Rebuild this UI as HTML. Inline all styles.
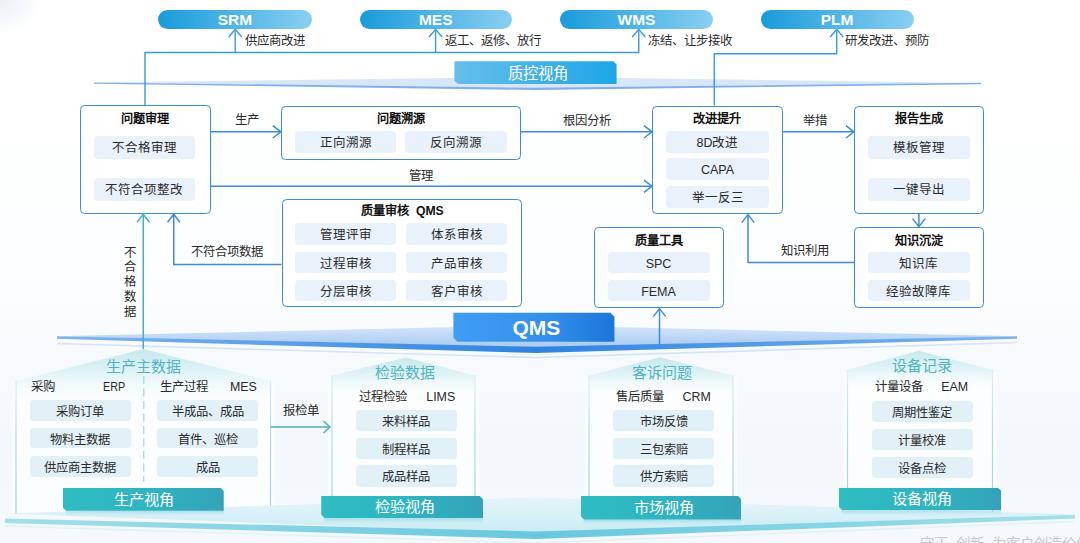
<!DOCTYPE html>
<html lang="zh-CN"><head><meta charset="utf-8"><title>QMS</title><style>
*{margin:0;padding:0;box-sizing:border-box}
html,body{width:1080px;height:543px;overflow:hidden;background:#fff}
body{font-family:"Liberation Sans",sans-serif;position:relative;color:#2a2a2a}
#bg{position:absolute;left:0;top:0;width:1080px;height:543px;background:
 radial-gradient(ellipse 42px 34px at 0 0,#e8f0f8 0,rgba(255,255,255,0) 100%),
 linear-gradient(180deg,#ffffff 0,#fdfeff 50%,#f7fafd 66%,#f4f8fc 80%,#f5f8fc 100%)}
svg#art{position:absolute;left:0;top:0}
.abs{position:absolute}
.pill{position:absolute;top:10px;height:19.2px;border-radius:10px;background:linear-gradient(90deg,#189bdb 0,#8acff1 100%);color:#fff;font-weight:bold;font-size:15.5px;line-height:19.6px;text-align:center}
.box{position:absolute;border:1.7px solid #3d8cd8;border-radius:4.5px;background:#fff}
.ttl{position:absolute;font-weight:bold;font-size:12.2px;line-height:14px;height:14px;color:#111;text-align:center;white-space:pre}
.it{position:absolute;background:#e9f1fb;border-radius:4px;font-size:12.5px;text-align:center;color:#2b2b2b;white-space:nowrap}
.bit{background:#e2f0f8;font-size:12.3px}
.lb{position:absolute;font-size:12.4px;line-height:14px;height:14px;white-space:nowrap;color:#2b2b2b}
.tt{position:absolute;font-size:15px;line-height:18px;height:18px;color:#52b3c2;text-align:center;white-space:nowrap}
.btn{position:absolute;color:#fff;font-size:15.2px;text-align:center;white-space:nowrap;background:linear-gradient(90deg,#2fbcc2 0,#2fb4c0 55%,#35a2b9 100%)}
</style></head>
<body>
<div id="bg"></div>
<svg id="art" width="1080" height="543" viewBox="0 0 1080 543"><defs><linearGradient id="gq" x1="0" y1="0" x2="1" y2="0"><stop offset="0" stop-color="#419df3"/><stop offset="0.6" stop-color="#328ee9"/><stop offset="1" stop-color="#1b76d9"/></linearGradient><linearGradient id="gz" x1="0" y1="0" x2="1" y2="0"><stop offset="0" stop-color="#66bfeb"/><stop offset="1" stop-color="#1ea5e6"/></linearGradient><linearGradient id="gl" x1="0" y1="0" x2="0" y2="1"><stop offset="0" stop-color="#d6e6fa"/><stop offset="1" stop-color="#a6c9f3"/></linearGradient><linearGradient id="gr" x1="0" y1="0" x2="0" y2="1"><stop offset="0" stop-color="#bbe4eb" stop-opacity="0.85"/><stop offset="0.45" stop-color="#d9f0f4" stop-opacity="0.75"/><stop offset="1" stop-color="#f4fbfc" stop-opacity="0"/></linearGradient><linearGradient id="gw" gradientUnits="userSpaceOnUse" x1="0" y1="370" x2="0" y2="515"><stop offset="0" stop-color="#a8d6de" stop-opacity="0.3"/><stop offset="0.4" stop-color="#9bd0da" stop-opacity="0.7"/><stop offset="1" stop-color="#90cad5" stop-opacity="0.85"/></linearGradient><linearGradient id="gp" gradientUnits="userSpaceOnUse" x1="0" y1="497" x2="0" y2="532"><stop offset="0" stop-color="#e3f4fa" stop-opacity="0.9"/><stop offset="0.55" stop-color="#d8f0f7"/><stop offset="1" stop-color="#c9ecf4"/></linearGradient><linearGradient id="gsh" x1="0" y1="0" x2="0" y2="1"><stop offset="0" stop-color="#8fd6e2" stop-opacity="0.7"/><stop offset="1" stop-color="#bfe9f2" stop-opacity="0"/></linearGradient><linearGradient id="gs" x1="0" y1="0" x2="1" y2="0"><stop offset="0" stop-color="#a3e0ea"/><stop offset="0.5" stop-color="#68c7de"/><stop offset="1" stop-color="#a3e0ea"/></linearGradient><linearGradient id="gd" x1="0" y1="0" x2="1" y2="0"><stop offset="0" stop-color="#82b4eb"/><stop offset="0.3" stop-color="#5099e6"/><stop offset="0.5" stop-color="#2d83e0"/><stop offset="0.7" stop-color="#5099e6"/><stop offset="1" stop-color="#82b4eb"/></linearGradient></defs><polygon points="94,82.6 535,76.8 981,83 535,89.4" fill="#d8e7f8"/><polygon points="94,82.4 535,87.8 981,82.8 981,84.2 535,90 94,83.8" fill="#80b0ea"/><polygon points="454.4,61.2 613.2,61.2 616.6,64.4 616.6,84 457.8,84 454.4,80.8" fill="url(#gz)"/><polygon points="57,336.3 536,325.2 1017,336.3 536,348" fill="url(#gl)"/><polygon points="57,336.2 536,346.8 1017,336.2 1017,338.8 536,353 57,338.8" fill="url(#gd)"/><polyline points="57,343.5 536,357.5 1017,342.5" fill="none" stroke="#d4e3f6" stroke-width="1.7"/><polygon points="453.4,312.7 610.4,312.7 614.4,316.7 614.4,341.7 457.4,341.7 453.4,337.7" fill="url(#gq)"/><polygon points="143.5,349 270.5,381 270.5,514 16,514 16,381" fill="#ffffff" fill-opacity="0.72"/><polygon points="143.5,349 270.5,381 270.5,403 16,403 16,381" fill="url(#gr)"/><rect x="12" y="383" width="4" height="131" fill="#ffffff" fill-opacity="0.55"/><rect x="270.5" y="383" width="4" height="131" fill="#ffffff" fill-opacity="0.55"/><line x1="16" y1="381" x2="16" y2="514" stroke="url(#gw)" stroke-width="1.2"/><line x1="270.5" y1="381" x2="270.5" y2="514" stroke="url(#gw)" stroke-width="1.2"/><polygon points="406,357.5 475,375.5 475,520 332,520 332,375.5" fill="#ffffff" fill-opacity="0.72"/><polygon points="406,357.5 475,375.5 475,397.5 332,397.5 332,375.5" fill="url(#gr)"/><rect x="328" y="377.5" width="4" height="142.5" fill="#ffffff" fill-opacity="0.55"/><rect x="475" y="377.5" width="4" height="142.5" fill="#ffffff" fill-opacity="0.55"/><line x1="332" y1="375.5" x2="332" y2="520" stroke="url(#gw)" stroke-width="1.2"/><line x1="475" y1="375.5" x2="475" y2="520" stroke="url(#gw)" stroke-width="1.2"/><polygon points="660,357.2 733,375.6 733,520 589,520 589,375.6" fill="#ffffff" fill-opacity="0.72"/><polygon points="660,357.2 733,375.6 733,397.6 589,397.6 589,375.6" fill="url(#gr)"/><rect x="585" y="377.6" width="4" height="142.39999999999998" fill="#ffffff" fill-opacity="0.55"/><rect x="733" y="377.6" width="4" height="142.39999999999998" fill="#ffffff" fill-opacity="0.55"/><line x1="589" y1="375.6" x2="589" y2="520" stroke="url(#gw)" stroke-width="1.2"/><line x1="733" y1="375.6" x2="733" y2="520" stroke="url(#gw)" stroke-width="1.2"/><polygon points="919,350.8 992.5,369.8 992.5,512 847.5,512 847.5,369.8" fill="#ffffff" fill-opacity="0.72"/><polygon points="919,350.8 992.5,369.8 992.5,391.8 847.5,391.8 847.5,369.8" fill="url(#gr)"/><rect x="843.5" y="371.8" width="4" height="140.2" fill="#ffffff" fill-opacity="0.55"/><rect x="992.5" y="371.8" width="4" height="140.2" fill="#ffffff" fill-opacity="0.55"/><line x1="847.5" y1="369.8" x2="847.5" y2="512" stroke="url(#gw)" stroke-width="1.2"/><line x1="992.5" y1="369.8" x2="992.5" y2="512" stroke="url(#gw)" stroke-width="1.2"/><polygon points="5,513.5 536,497.5 1075,514.5 536,533" fill="url(#gp)"/><polygon points="5,518.5 536,531.5 1075,514.8 1075,518.5 536,539 5,523" fill="url(#gs)"/><polyline points="5,526 536,543 1075,521.5" fill="none" stroke="#dff3f8" stroke-width="1.5"/><rect x="65.5" y="510.75" width="158.25" height="6" fill="url(#gsh)"/><rect x="324.25" y="518.25" width="158.75" height="6" fill="url(#gsh)"/><rect x="583.5" y="519.5" width="157.75" height="6" fill="url(#gsh)"/><rect x="841.75" y="510.25" width="159.5" height="6" fill="url(#gsh)"/><path d="M145,105 V52.5 H638.75 V30.5" fill="none" stroke="#369bdf" stroke-width="1.4" /><path d="M235.2,52.5 V30.5" fill="none" stroke="#369bdf" stroke-width="1.4" /><path d="M435.6,52.5 V30.5" fill="none" stroke="#369bdf" stroke-width="1.4" /><path d="M714.25,105.5 V53.75 H836.75 V30.5" fill="none" stroke="#369bdf" stroke-width="1.4" /><path d="M228.7,37.0 L235.2,29.3 L241.7,37.0" fill="none" stroke="#369bdf" stroke-width="1.4" stroke-linejoin="miter"/><path d="M429.1,37.0 L435.6,29.3 L442.1,37.0" fill="none" stroke="#369bdf" stroke-width="1.4" stroke-linejoin="miter"/><path d="M632.25,37.0 L638.75,29.3 L645.25,37.0" fill="none" stroke="#369bdf" stroke-width="1.4" stroke-linejoin="miter"/><path d="M830.25,37.0 L836.75,29.3 L843.25,37.0" fill="none" stroke="#369bdf" stroke-width="1.4" stroke-linejoin="miter"/><path d="M210.5,131.8 H280.5" fill="none" stroke="#3d8cd8" stroke-width="1.5" /><path d="M272.8,125.60000000000001 L280.8,131.8 L272.8,138.0" fill="none" stroke="#3d8cd8" stroke-width="1.5" stroke-linejoin="miter"/><path d="M520.75,131.8 H651.5" fill="none" stroke="#3d8cd8" stroke-width="1.5" /><path d="M644,125.60000000000001 L652,131.8 L644,138.0" fill="none" stroke="#3d8cd8" stroke-width="1.5" stroke-linejoin="miter"/><path d="M210.5,186.25 H651.5" fill="none" stroke="#3d8cd8" stroke-width="1.5" /><path d="M644,180.05 L652,186.25 L644,192.45" fill="none" stroke="#3d8cd8" stroke-width="1.5" stroke-linejoin="miter"/><path d="M782.5,131.8 H853.5" fill="none" stroke="#3d8cd8" stroke-width="1.5" /><path d="M846,125.60000000000001 L854,131.8 L846,138.0" fill="none" stroke="#3d8cd8" stroke-width="1.5" stroke-linejoin="miter"/><path d="M918.9,213.5 V226.5" fill="none" stroke="#3d8cd8" stroke-width="1.5" /><path d="M912.5,218.6 L918.9,226.6 L925.3,218.6" fill="none" stroke="#3d8cd8" stroke-width="1.5" stroke-linejoin="miter"/><path d="M854,262.5 H748 V215" fill="none" stroke="#3d8cd8" stroke-width="1.5" /><path d="M741.8,222.6 L748,214.6 L754.2,222.6" fill="none" stroke="#3d8cd8" stroke-width="1.5" stroke-linejoin="miter"/><path d="M281.5,264.5 H173.75 V214.5" fill="none" stroke="#3d8cd8" stroke-width="1.5" /><path d="M167.55,222.2 L173.75,214.2 L179.95,222.2" fill="none" stroke="#3d8cd8" stroke-width="1.5" stroke-linejoin="miter"/><path d="M659.5,347 V309" fill="none" stroke="#3d8cd8" stroke-width="1.5" /><path d="M653.3,316.6 L659.5,308.6 L665.7,316.6" fill="none" stroke="#3d8cd8" stroke-width="1.5" stroke-linejoin="miter"/><path d="M143.25,349 V214.5" fill="none" stroke="#49afbc" stroke-width="1.5" /><path d="M137.05,222.2 L143.25,214.2 L149.45,222.2" fill="none" stroke="#49afbc" stroke-width="1.5" stroke-linejoin="miter"/><path d="M270.5,427 H329.5" fill="none" stroke="#49afbc" stroke-width="1.4" /><path d="M323.5,421 L330,427 L323.5,433" fill="none" stroke="#49afbc" stroke-width="1.4" stroke-linejoin="miter"/><path d="M143.75,376 V482" fill="none" stroke="#b0d5df" stroke-width="1.3" stroke-dasharray="8,4.5"/></svg>
<div class="pill" style="left:158.3px;width:153.39999999999998px">SRM</div>
<div class="pill" style="left:359.5px;width:152.5px">MES</div>
<div class="pill" style="left:560px;width:153px">WMS</div>
<div class="pill" style="left:760.5px;width:153.25px">PLM</div>
<div class="lb" style="left:245px;top:34.25px;">供应商改进</div>
<div class="lb" style="left:445px;top:34.25px;">返工、返修、放行</div>
<div class="lb" style="left:647.5px;top:34.25px;">冻结、让步接收</div>
<div class="lb" style="left:845px;top:34.25px;">研发改进、预防</div>
<div class="abs" style="left:457.1px;top:61.2px;width:162.2px;height:22.8px;line-height:25.6px;color:#fff;font-size:15.4px;text-align:center">质控视角</div>
<div class="abs" style="left:455.6px;top:312.7px;width:161.6px;height:29px;line-height:29.6px;color:#fff;font-size:21px;font-weight:bold;text-align:center">QMS</div>
<div class="box" style="left:80px;top:105px;width:130.5px;height:108.75px"></div>
<div class="ttl" style="left:65.25px;top:112.25px;width:160px">问题审理</div>
<div class="it" style="left:93.75px;top:136.25px;width:101.25px;height:22.5px;line-height:25.5px">不合格审理</div>
<div class="it" style="left:93.75px;top:178px;width:101.25px;height:22.5px;line-height:25.5px">不符合项整改</div>
<div class="box" style="left:280.75px;top:106px;width:240.0px;height:53.5px"></div>
<div class="ttl" style="left:320.5px;top:112.25px;width:160px">问题溯源</div>
<div class="it" style="left:295px;top:131.25px;width:101.25px;height:21.75px;line-height:24.75px">正向溯源</div>
<div class="it" style="left:405px;top:131.25px;width:102px;height:21.75px;line-height:24.75px">反向溯源</div>
<div class="box" style="left:652px;top:105.5px;width:130.5px;height:108.75px"></div>
<div class="ttl" style="left:637.25px;top:112.25px;width:160px">改进提升</div>
<div class="it" style="left:666.25px;top:130.5px;width:102.5px;height:22.0px;line-height:25.0px">8D改进</div>
<div class="it" style="left:666.25px;top:158.25px;width:102.5px;height:21.75px;line-height:24.75px">CAPA</div>
<div class="it" style="left:666.25px;top:186.25px;width:102.5px;height:21.75px;line-height:24.75px">举一反三</div>
<div class="box" style="left:854px;top:105.5px;width:130px;height:108.0px"></div>
<div class="ttl" style="left:839.0px;top:112.25px;width:160px">报告生成</div>
<div class="it" style="left:867.5px;top:136.25px;width:102.0px;height:22.5px;line-height:25.5px">模板管理</div>
<div class="it" style="left:867.5px;top:178px;width:102.0px;height:22.5px;line-height:25.5px">一键导出</div>
<div class="box" style="left:281.5px;top:198.5px;width:240.0px;height:108.5px"></div>
<div class="ttl" style="left:322.5px;top:204.25px;width:160px">质量审核  QMS</div>
<div class="it" style="left:295px;top:223.25px;width:101.25px;height:21.75px;line-height:24.75px">管理评审</div>
<div class="it" style="left:406.25px;top:223.25px;width:100.75px;height:21.75px;line-height:24.75px">体系审核</div>
<div class="it" style="left:295px;top:251.75px;width:101.25px;height:21.5px;line-height:24.5px">过程审核</div>
<div class="it" style="left:406.25px;top:251.75px;width:100.75px;height:21.5px;line-height:24.5px">产品审核</div>
<div class="it" style="left:295px;top:279.5px;width:101.25px;height:21.25px;line-height:24.25px">分层审核</div>
<div class="it" style="left:406.25px;top:279.5px;width:100.75px;height:21.25px;line-height:24.25px">客户审核</div>
<div class="box" style="left:593.5px;top:227px;width:130.5px;height:81px"></div>
<div class="ttl" style="left:578.5px;top:234.25px;width:160px">质量工具</div>
<div class="it" style="left:607.5px;top:251.75px;width:102.0px;height:21.5px;line-height:24.5px">SPC</div>
<div class="it" style="left:607.5px;top:279.5px;width:102.0px;height:21.75px;line-height:24.75px">FEMA</div>
<div class="box" style="left:854px;top:227px;width:130px;height:81px"></div>
<div class="ttl" style="left:839.0px;top:234.25px;width:160px">知识沉淀</div>
<div class="it" style="left:867.5px;top:251.75px;width:102.0px;height:21.5px;line-height:24.5px">知识库</div>
<div class="it" style="left:867.5px;top:279.5px;width:102.0px;height:21.75px;line-height:24.75px">经验故障库</div>
<div class="lb" style="left:235px;top:113.0px;">生产</div>
<div class="lb" style="left:562.5px;top:113.5px;">根因分析</div>
<div class="lb" style="left:803px;top:113.5px;">举措</div>
<div class="lb" style="left:360.75px;width:120px;text-align:center;top:169.25px">管理</div>
<div class="lb" style="left:191.25px;top:244.75px;">不符合项数据</div>
<div class="lb" style="left:780.5px;top:244.25px;">知识利用</div>
<div class="lb" style="left:283px;top:404.25px;">报检单</div>
<div class="abs" style="left:123.8px;top:245.6px;width:12.4px;font-size:12.4px;line-height:14.8px;text-align:center;color:#2b2b2b">不<br>合<br>格<br>数<br>据</div>
<div class="tt" style="left:83.75px;width:120px;top:357.5px">生产主数据</div>
<div class="lb" style="left:31.25px;top:379.75px;">采购</div>
<div class="lb" style="left:103px;top:379.75px;"><span style="display:inline-block;transform:scaleX(0.87);transform-origin:0 50%">ERP</span></div>
<div class="lb" style="left:159.5px;top:379.75px;">生产过程</div>
<div class="lb" style="left:230px;top:379.75px;">MES</div>
<div class="it bit" style="left:29.5px;top:399.75px;width:101.0px;height:20.75px;line-height:24.15px">采购订单</div>
<div class="it bit" style="left:157px;top:399.75px;width:101px;height:20.75px;line-height:24.15px">半成品、成品</div>
<div class="it bit" style="left:29.5px;top:427.5px;width:101.0px;height:20.75px;line-height:24.15px">物料主数据</div>
<div class="it bit" style="left:157px;top:427.5px;width:101px;height:20.75px;line-height:24.15px">首件、巡检</div>
<div class="it bit" style="left:29.5px;top:455.5px;width:101.0px;height:21.0px;line-height:24.4px">供应商主数据</div>
<div class="it bit" style="left:157px;top:455.5px;width:101px;height:21.0px;line-height:24.4px">成品</div>
<div class="btn" style="left:62.5px;top:487.5px;width:161.25px;height:23.25px;line-height:23.25px;clip-path:polygon(0 0,157.75px 0,161.25px 3.5px,161.25px 23.25px,3.5px 23.25px,0 19.75px)"><span style="position:relative;left:0.4px">生产视角</span></div>
<div class="tt" style="left:345px;width:120px;top:363.75px">检验数据</div>
<div class="lb" style="left:358.75px;top:390.25px;">过程检验</div>
<div class="lb" style="left:426.25px;top:390.25px;">LIMS</div>
<div class="it bit" style="left:355.5px;top:409.75px;width:101.5px;height:21.5px;line-height:24.9px">来料样品</div>
<div class="it bit" style="left:355.5px;top:437.5px;width:101.5px;height:21.25px;line-height:24.65px">制程样品</div>
<div class="it bit" style="left:355.5px;top:465.25px;width:101.5px;height:21.25px;line-height:24.65px">成品样品</div>
<div class="btn" style="left:321.25px;top:495.75px;width:161.75px;height:22.5px;line-height:22.5px;clip-path:polygon(0 0,158.25px 0,161.75px 3.5px,161.75px 22.5px,3.5px 22.5px,0 19.0px)"><span style="position:relative;left:2.6px">检验视角</span></div>
<div class="tt" style="left:601.6px;width:120px;top:363.75px">客诉问题</div>
<div class="lb" style="left:615.75px;top:390.25px;">售后质量</div>
<div class="lb" style="left:682.5px;top:390.25px;">CRM</div>
<div class="it bit" style="left:613.25px;top:409.75px;width:101.0px;height:21.5px;line-height:24.9px">市场反馈</div>
<div class="it bit" style="left:613.25px;top:437.5px;width:101.0px;height:21.25px;line-height:24.65px">三包索赔</div>
<div class="it bit" style="left:613.25px;top:465.25px;width:101.0px;height:21.25px;line-height:24.65px">供方索赔</div>
<div class="btn" style="left:580.5px;top:495.75px;width:160.75px;height:23.75px;line-height:23.75px;clip-path:polygon(0 0,157.25px 0,160.75px 3.5px,160.75px 23.75px,3.5px 23.75px,0 20.25px)"><span style="position:relative;left:2.9px">市场视角</span></div>
<div class="tt" style="left:862px;width:120px;top:357px">设备记录</div>
<div class="lb" style="left:874.5px;top:379.75px;">计量设备</div>
<div class="lb" style="left:941.25px;top:379.75px;">EAM</div>
<div class="it bit" style="left:871.75px;top:400.75px;width:101.25px;height:21.25px;line-height:24.65px">周期性鉴定</div>
<div class="it bit" style="left:871.75px;top:428.75px;width:101.25px;height:21.25px;line-height:24.65px">计量校准</div>
<div class="it bit" style="left:871.75px;top:457px;width:101.25px;height:21.25px;line-height:24.65px">设备点检</div>
<div class="btn" style="left:838.75px;top:487.5px;width:162.5px;height:22.75px;line-height:22.75px;clip-path:polygon(0 0,159.0px 0,162.5px 3.5px,162.5px 22.75px,3.5px 22.75px,0 19.25px)"><span style="position:relative;left:1.5px">设备视角</span></div>
<div class="abs" style="left:920px;top:535px;font-size:14.5px;line-height:18px;color:#c8cbce;white-space:pre">守正  创新  为客户创造价值</div>
</body></html>
